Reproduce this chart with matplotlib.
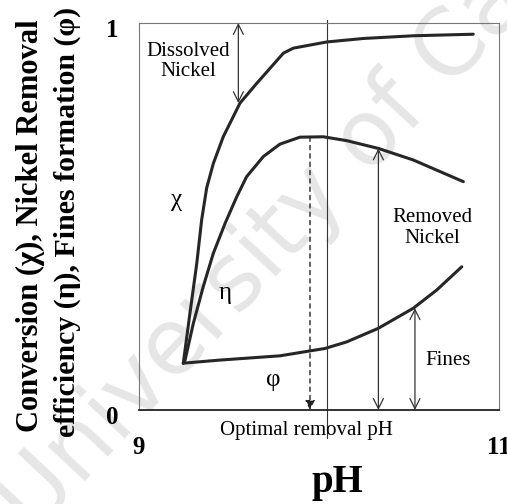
import matplotlib
matplotlib.use("Agg")
import matplotlib.pyplot as plt
from matplotlib.transforms import ScaledTranslation

# Data
ph_chi = [9.246, 9.283, 9.321, 9.348, 9.376, 9.413, 9.468, 9.561, 9.654, 9.728,
          9.802, 9.857, 9.950, 10.043, 10.246, 10.524, 10.857]
chi = [0.121, 0.250, 0.379, 0.491, 0.574, 0.637, 0.706, 0.793, 0.844, 0.883,
       0.922, 0.935, 0.943, 0.951, 0.960, 0.967, 0.971]

ph_eta = [9.246, 9.256, 9.302, 9.357, 9.413, 9.478, 9.543, 9.598, 9.691, 9.783,
          9.894, 10.024, 10.154, 10.329, 10.524, 10.802]
eta = [0.121, 0.129, 0.224, 0.319, 0.405, 0.482, 0.551, 0.603, 0.655, 0.687,
       0.705, 0.706, 0.696, 0.676, 0.646, 0.590]

ph_phi = [9.246, 9.450, 9.783, 10.033, 10.154, 10.329, 10.524, 10.654, 10.793]
phi = [0.121, 0.129, 0.140, 0.159, 0.176, 0.211, 0.263, 0.310, 0.370]

x_ticks = [9, 11]
x_tick_labels = ["9", "11"]
y_ticks = [0, 1]
y_tick_labels = ["0", "1"]

ph_dissolved = 9.552
ph_optimal = 9.95
ph_removed = 10.33
ph_fines = 10.533
ph_refline = 10.043

serif = "Liberation Serif"
W, H = 507, 504
fig = plt.figure(figsize=(W / 100, H / 100), dpi=100)

# watermark (behind everything)
fig.text(0.52, 0.50, "University of Ca", rotation=47, fontsize=66, color="#e6e6e6",
         ha="center", va="center", family="DejaVu Sans", zorder=-10)

ax = fig.add_axes([139 / W, (H - 410) / H, 360 / W, 387 / H])
ax.set_zorder(1)
ax.patch.set_alpha(0)
ax.set_xlim(9, 11)
ax.set_ylim(0, 1)
for s in ["top", "right", "left"]:
    ax.spines[s].set_color("#777777")
    ax.spines[s].set_linewidth(0.8)
ax.spines["bottom"].set_color("#222222")
ax.spines["bottom"].set_linewidth(1.3)

ax.set_xticks(x_ticks)
ax.set_xticklabels(x_tick_labels, fontsize=18, fontweight="bold", family=serif)
ax.set_yticks(y_ticks)
ax.set_yticklabels(y_tick_labels, fontsize=18, fontweight="bold", family=serif)
ax.tick_params(axis="x", length=0, pad=19)
ax.tick_params(axis="y", length=0, pad=15)
off = ScaledTranslation(0, -5 / 100, fig.dpi_scale_trans)
for lab in ax.get_yticklabels():
    lab.set_transform(lab.get_transform() + off)

lc = "#262626"
ax.plot(ph_chi, chi, color=lc, lw=2.2, solid_capstyle="round", solid_joinstyle="round")
ax.plot(ph_eta, eta, color=lc, lw=2.2, solid_capstyle="round", solid_joinstyle="round")
ax.plot(ph_phi, phi, color=lc, lw=2.2, solid_capstyle="round", solid_joinstyle="round")

# reference vertical line
ax.plot([ph_refline, ph_refline], [-0.072, 1.008], color="#333333", lw=0.8, clip_on=False)

def darrow(x, y0, y1):
    ax.annotate("", xy=(x, y1), xytext=(x, y0),
                arrowprops=dict(arrowstyle="<->", color="#333333", lw=0.9,
                                mutation_scale=18, shrinkA=0, shrinkB=0))

darrow(ph_dissolved, 1.0, 0.793)
darrow(ph_removed, 0.0, 0.676)
darrow(ph_fines, 0.0, 0.263)
ax.annotate("", xy=(ph_optimal, 0.0), xytext=(ph_optimal, 0.705),
            arrowprops=dict(arrowstyle="-|>", color="#222222", lw=1.0,
                            linestyle=(0, (3, 3)),
                            mutation_scale=14, shrinkA=0, shrinkB=0))

fs = 15
ax.text(9.272, 0.90, "Dissolved\nNickel", ha="center", va="center", fontsize=fs,
        family=serif, linespacing=1.1)
ax.text(10.628, 0.47, "Removed\nNickel", ha="center", va="center", fontsize=fs,
        family=serif, linespacing=1.1)
ax.text(10.717, 0.129, "Fines", ha="center", va="center", fontsize=fs, family=serif)
ax.text(9.928, -0.052, "Optimal removal pH", ha="center", va="center", fontsize=fs,
        family=serif, clip_on=False)
ax.text(9.21, 0.543, "χ", ha="center", va="center", fontsize=18, family=serif)
ax.text(9.478, 0.302, "η", ha="center", va="center", fontsize=18, family=serif)
ax.text(9.744, 0.078, "φ", ha="center", va="center", fontsize=18, family=serif)

fig.text(337 / W, 1 - 492 / H, "pH", ha="center", va="baseline", fontsize=28,
         fontweight="bold", family=serif)
fig.text(30 / W, 1 - 226 / H, "Conversion (χ), Nickel Removal", rotation=90,
         ha="center", va="center", fontsize=22, fontweight="bold", family=serif)
fig.text(67 / W, 1 - 222 / H, "efficiency (η), Fines formation (φ)", rotation=90,
         ha="center", va="center", fontsize=21.5, fontweight="bold", family=serif)

fig.savefig("out.png", dpi=100)
